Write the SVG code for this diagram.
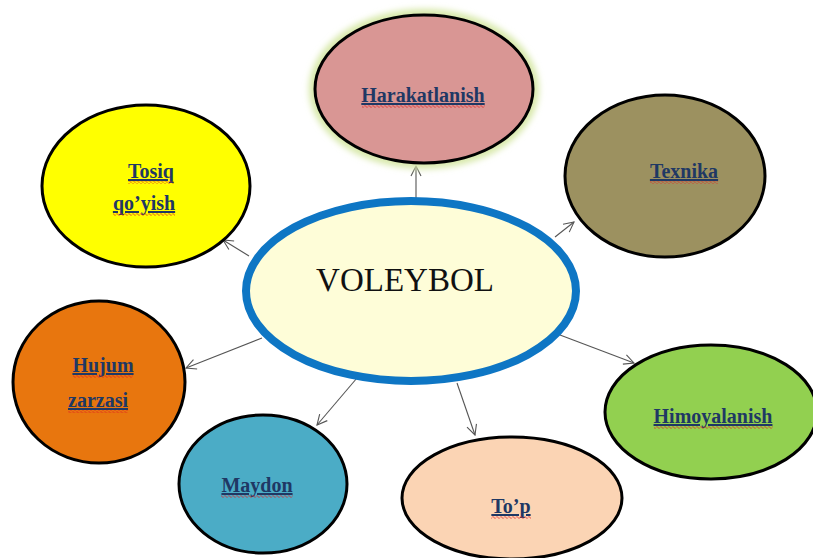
<svg xmlns="http://www.w3.org/2000/svg" width="813" height="558" viewBox="0 0 813 558">
  <style>
    .node { stroke: #000; stroke-width: 3; }
    .lbl { font-family: "Liberation Serif", "Times New Roman", serif; font-weight: bold; font-size: 20px; fill: #1F3864; text-anchor: middle; text-decoration: underline; }
    .conn { stroke: #555; stroke-width: 1.1; fill: none; marker-end: url(#arr); }
    .wavy { fill: url(#wave); }
  </style>
  <defs>
    <marker id="arr" viewBox="0 0 12 12" refX="11" refY="6" markerWidth="12" markerHeight="12" markerUnits="userSpaceOnUse" orient="auto">
      <polyline points="1,1 11,6 1,11" fill="none" stroke="#555" stroke-width="1.1"/>
    </marker>
    <pattern id="wave" width="4" height="3" patternUnits="userSpaceOnUse">
      <polyline points="0,1.5 1,0.5 3,2.5 4,1.5" fill="none" stroke="#E02020" stroke-width="0.8"/>
    </pattern>
    <filter id="glow" x="-20%" y="-20%" width="140%" height="140%">
      <feGaussianBlur stdDeviation="3"/>
    </filter>
  </defs>
  <rect width="813" height="558" fill="#fff"/>

  <g id="connectors">
    <line class="conn" x1="416" y1="198" x2="416" y2="166"/>
    <line class="conn" x1="249" y1="256" x2="223" y2="240"/>
    <line class="conn" x1="555" y1="237" x2="574" y2="222"/>
    <line class="conn" x1="262" y1="338" x2="186" y2="368"/>
    <line class="conn" x1="560" y1="335" x2="634" y2="363"/>
    <line class="conn" x1="357" y1="378" x2="317" y2="425"/>
    <line class="conn" x1="457" y1="383" x2="475" y2="435"/>
  </g>

  <g id="harakatlanish">
    <ellipse cx="424" cy="89" rx="110" ry="75" fill="none" stroke="#D7E8A8" stroke-width="10" filter="url(#glow)"/>
    <ellipse class="node" cx="424" cy="89" rx="109" ry="74" fill="#D99694"/>
    <text class="lbl" x="423" y="102">Harakatlanish</text>
    <rect class="wavy" x="362" y="105" width="123" height="3"/>
  </g>

  <g id="tosiq">
    <ellipse class="node" cx="146" cy="186" rx="104" ry="81" fill="#FFFF00"/>
    <text class="lbl" x="151" y="178">Tosiq</text>
    <rect class="wavy" x="128" y="181" width="46" height="3"/>
    <text class="lbl" x="144" y="210">qo’yish</text>
    <rect class="wavy" x="113" y="213" width="62" height="3"/>
  </g>

  <g id="texnika">
    <ellipse class="node" cx="665" cy="176" rx="100" ry="81" fill="#9C9160"/>
    <text class="lbl" x="684" y="178">Texnika</text>
    <rect class="wavy" x="650" y="181" width="68" height="3"/>
  </g>

  <g id="voleybol">
    <ellipse cx="411" cy="291" rx="165" ry="90" fill="#FEFDD8" stroke="#0E76C4" stroke-width="8"/>
    <text x="405" y="291" font-family="Liberation Serif, Times New Roman, serif" font-size="33" fill="#111" text-anchor="middle">VOLEYBOL</text>
  </g>

  <g id="hujum">
    <ellipse class="node" cx="99" cy="382" rx="86" ry="81" fill="#E8760E"/>
    <text class="lbl" x="103" y="372">Hujum</text>
    <rect class="wavy" x="73" y="375" width="60" height="3"/>
    <text class="lbl" x="98" y="407">zarzasi</text>
    <rect class="wavy" x="68" y="410" width="60" height="3"/>
  </g>

  <g id="himoyalanish">
    <ellipse class="node" cx="711" cy="412" rx="106" ry="67" fill="#92D050"/>
    <text class="lbl" x="713" y="423">Himoyalanish</text>
    <rect class="wavy" x="654" y="426" width="119" height="3"/>
  </g>

  <g id="maydon">
    <ellipse class="node" cx="263" cy="484" rx="84" ry="69" fill="#4BACC6"/>
    <text class="lbl" x="257" y="492">Maydon</text>
    <rect class="wavy" x="221" y="495" width="72" height="3"/>
  </g>

  <g id="top">
    <ellipse class="node" cx="512" cy="498" rx="110" ry="61" fill="#FBD4B4"/>
    <text class="lbl" x="511" y="513">To’p</text>
    <rect class="wavy" x="491" y="516" width="40" height="3"/>
  </g>
</svg>
